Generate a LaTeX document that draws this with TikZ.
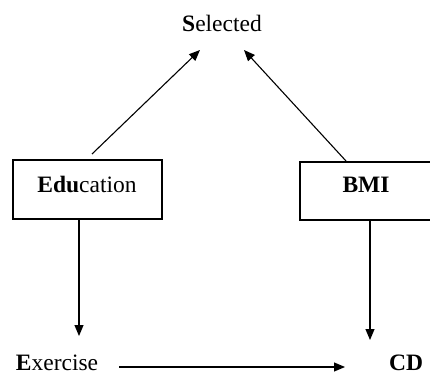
\documentclass[tikz,border=0pt]{standalone}
\usepackage{fontspec}
\setmainfont{Liberation Serif}
\usetikzlibrary{arrows.meta}
\begin{document}
\begin{tikzpicture}[x=1pt,y=1pt,
  txt/.style={inner sep=0pt,font=\fontsize{23.5}{27}\selectfont},
  boxnode/.style={draw,line width=1.1pt,inner sep=0pt},
  arr/.style={line width=1.1pt,-{Triangle[length=11pt,width=9pt]}}]
\useasboundingbox (0,0) rectangle (430,-374);
% labels
\node[txt] (sel) at (222,-23) {\textbf{S}elected};
\node[boxnode,minimum width=149pt,minimum height=59pt] (edubox) at (87.5,-189.5) {};
\node[txt] (edu) at (87,-184) {\textbf{Edu}cation};
\node[boxnode,minimum width=132pt,minimum height=58pt] (bmibox) at (366,-191) {};
\node[txt] (bmi) at (366,-185) {\textbf{BMI}};
\node[txt,anchor=base] (ex) at (57,-370) {\textbf{E}xercise};
\node[txt,anchor=base] (cd) at (406,-370) {\textbf{CD}};
% connector end points
\coordinate (e1) at (92,-154);
\coordinate (s1) at (200,-50);
\coordinate (b1) at (346,-161);
\coordinate (s2) at (244,-50);
\coordinate (e2) at (79,-219);
\coordinate (x1) at (79,-336);
\coordinate (b2) at (370,-220);
\coordinate (c1) at (370,-340);
\coordinate (x2) at (119,-367);
\coordinate (c2) at (345,-367);
\draw[arr] (e1) -- (s1);
\draw[arr] (b1) -- (s2);
\draw[arr] (e2) -- (x1);
\draw[arr] (b2) -- (c1);
\draw[arr] (x2) -- (c2);
\end{tikzpicture}
\end{document}
